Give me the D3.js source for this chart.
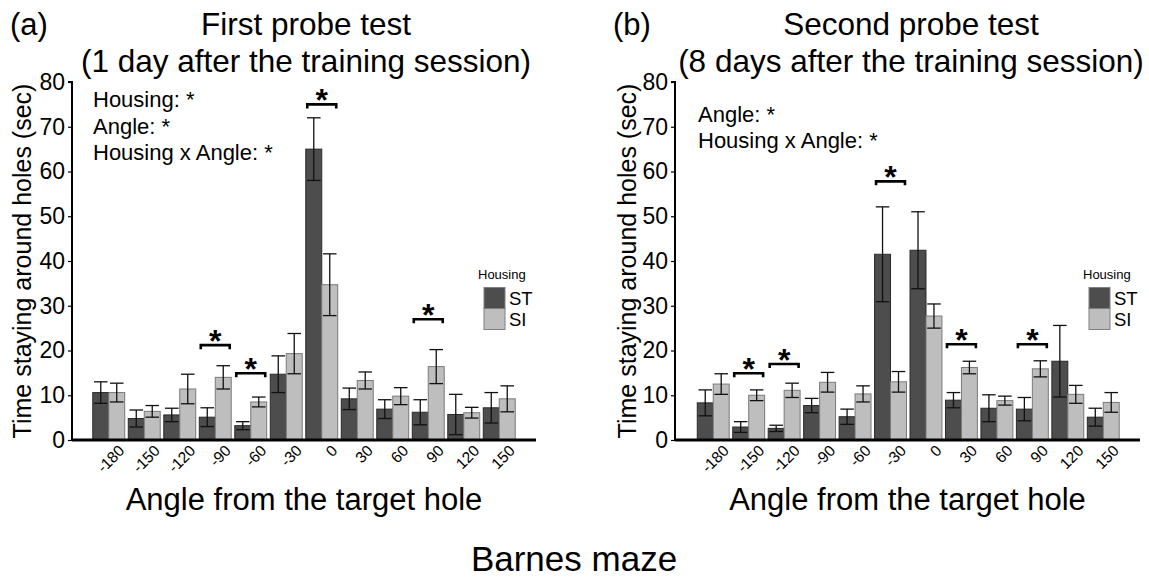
<!DOCTYPE html>
<html>
<head>
<meta charset="utf-8">
<script src="https://cdn.jsdelivr.net/npm/d3@7"></script>
<style>
  html, body { margin: 0; padding: 0; background: #fff; }
  svg { display: block; font-family: "Liberation Sans", Arial, sans-serif; }
</style>
</head>
<body>
<svg id="chart" width="1149" height="579"></svg>
<script>
// ---------------- data ----------------
const angles = [-180, -150, -120, -90, -60, -30, 0, 30, 60, 90, 120, 150];
const groups = ["ST", "SI"];
const yTicks = [0, 10, 20, 30, 40, 50, 60, 70, 80];

const firstST   = [10.6, 4.8, 5.6, 5.1, 3.2, 14.7, 65.0, 9.2, 6.9, 6.2, 5.7, 7.2];
const firstSTse = [2.4, 1.9, 1.5, 2.1, 0.9, 4.1, 7.0, 2.4, 2.1, 2.8, 4.5, 3.4];
const firstSI   = [10.6, 6.4, 11.4, 14.0, 8.5, 19.3, 34.7, 13.3, 9.8, 16.4, 6.1, 9.2];
const firstSIse = [2.1, 1.3, 3.3, 2.6, 1.1, 4.5, 6.9, 1.9, 1.9, 3.8, 1.2, 2.9];

const secondST   = [8.3, 2.9, 2.6, 7.7, 5.2, 41.5, 42.4, 8.9, 7.1, 6.9, 17.6, 5.1];
const secondSTse = [2.9, 1.2, 0.7, 1.6, 1.7, 10.6, 8.6, 1.7, 3.0, 2.6, 8.0, 2.0];
const secondSI   = [12.5, 10.0, 11.1, 12.9, 10.3, 13.0, 27.7, 16.2, 8.8, 15.9, 10.2, 8.4];
const secondSIse = [2.3, 1.2, 1.6, 2.2, 1.8, 2.3, 2.7, 1.4, 1.0, 1.8, 2.0, 2.2];

const firstSigAngles  = [-90, -60, 0, 90];
const firstSigY       = [21.2, 14.9, 75.0, 27.0];
const secondSigAngles = [-150, -120, -30, 30, 90];
const secondSigY      = [14.9, 17.0, 57.8, 21.4, 21.4];

const firstStats  = ["Housing: *", "Angle: *", "Housing x Angle: *"];
const secondStats = ["Angle: *", "Housing x Angle: *"];

// ---------------- style ----------------
const colors = { ST: "#4d4d4d", SI: "#bebebe" };
const strokes = { ST: "#2a2a2a", SI: "#7a7a7a" };

const svg = d3.select("#chart");

function drawPanel(opt) {
  const y = d3.scaleLinear().domain([0, 80]).range([440, 82]);
  const x = d3.scaleBand().domain(angles).range([opt.bandStart, opt.bandEnd])
              .paddingInner(0.1).paddingOuter(0.05);
  const xi = d3.scaleBand().domain(groups).range([0, x.bandwidth()]).padding(0);

  const g = svg.append("g");

  const rows = angles.map((a, i) => ({
    angle: a,
    vals: [
      { grp: "ST", v: opt.st[i], se: opt.stse[i] },
      { grp: "SI", v: opt.si[i], se: opt.sise[i] }
    ]
  }));

  // bars
  const grp = g.selectAll("g.grp").data(rows).join("g")
    .attr("transform", d => `translate(${x(d.angle)},0)`);
  grp.selectAll("rect").data(d => d.vals).join("rect")
    .attr("x", d => xi(d.grp))
    .attr("y", d => y(d.v))
    .attr("width", xi.bandwidth())
    .attr("height", d => y(0) - y(d.v))
    .attr("fill", d => colors[d.grp])
    .attr("stroke", d => strokes[d.grp])
    .attr("stroke-width", 1);

  // error bars
  const capW = xi.bandwidth() * 0.85;
  const eb = grp.selectAll("g.eb").data(d => d.vals).join("g")
    .attr("transform", d => `translate(${xi(d.grp) + xi.bandwidth() / 2},0)`);
  eb.append("line").attr("x1", 0).attr("x2", 0)
    .attr("y1", d => y(d.v - d.se)).attr("y2", d => y(d.v + d.se))
    .attr("stroke", "#111").attr("stroke-width", 1.3);
  eb.append("line").attr("x1", -capW / 2).attr("x2", capW / 2)
    .attr("y1", d => y(d.v + d.se)).attr("y2", d => y(d.v + d.se))
    .attr("stroke", "#111").attr("stroke-width", 1.3);
  eb.append("line").attr("x1", -capW / 2).attr("x2", capW / 2)
    .attr("y1", d => y(d.v - d.se)).attr("y2", d => y(d.v - d.se))
    .attr("stroke", "#111").attr("stroke-width", 1.3);

  // significance brackets
  const sig = opt.sigAngles.map((a, i) => ({ angle: a, yv: opt.sigY[i] }));
  const sg = g.selectAll("g.sig").data(sig).join("g");
  sg.append("path")
    .attr("d", d => {
      const x0 = x(d.angle) + 1.5, x1 = x(d.angle) + x.bandwidth() - 1.5, yy = y(d.yv);
      return `M${x0},${yy + 4}V${yy}H${x1}V${yy + 4}`;
    })
    .attr("fill", "none").attr("stroke", "#000").attr("stroke-width", 2.6);
  sg.append("text")
    .attr("x", d => x(d.angle) + x.bandwidth() / 2)
    .attr("y", d => y(d.yv) + 7)
    .attr("text-anchor", "middle")
    .attr("font-size", 32).attr("font-weight", "bold")
    .text("*");

  // y axis
  const yAxis = d3.axisLeft(y).tickValues(yTicks).tickSize(4).tickPadding(3);
  const ya = g.append("g").attr("transform", `translate(${opt.axisX},0)`).call(yAxis);
  ya.select(".domain").attr("d", `M-4,${y(80)}H0V${y(0)}`).attr("stroke-width", 2);
  ya.selectAll(".tick line").attr("stroke-width", 1.2);
  ya.selectAll(".tick text").attr("font-size", 23).attr("fill", "#000")
    .attr("font-family", "'Liberation Sans', Arial, sans-serif");

  // x axis
  const xAxis = d3.axisBottom(x).tickSize(0).tickPadding(0);
  const xa = g.append("g").attr("transform", `translate(0,${y(0)})`).call(xAxis);
  xa.select(".domain").attr("d", `M${opt.axisX},0H${opt.axisEnd}`).attr("stroke-width", 3);
  xa.selectAll(".tick text")
    .attr("font-size", 15.5).attr("fill", "#000")
    .attr("font-family", "'Liberation Sans', Arial, sans-serif")
    .attr("text-anchor", "end")
    .attr("transform", "translate(9,4) rotate(-45)")
    .attr("dy", "0.7em").attr("y", 0).attr("x", 0);

  // axis titles
  g.append("text")
    .attr("transform", `translate(${opt.yTitleX},261) rotate(-90)`)
    .attr("text-anchor", "middle").attr("font-size", 25)
    .text("Time staying around holes (sec)");
  g.append("text")
    .attr("x", (opt.axisX + opt.axisEnd) / 2).attr("y", 510)
    .attr("text-anchor", "middle").attr("font-size", 31)
    .text("Angle from the target hole");

  // titles
  g.append("text").attr("x", opt.labelX).attr("y", 35).attr("font-size", 31).text(opt.label);
  g.append("text").attr("x", opt.titleCX).attr("y", 35).attr("text-anchor", "middle")
    .attr("font-size", 31.5).text(opt.title1);
  g.append("text").attr("x", opt.titleCX).attr("y", 72).attr("text-anchor", "middle")
    .attr("font-size", 31.5).text(opt.title2);

  // stats annotation
  g.selectAll("text.stat").data(opt.stats).join("text")
    .attr("class", "stat")
    .attr("x", opt.statX)
    .attr("y", (d, i) => opt.statY + i * 26.7)
    .attr("font-size", 22)
    .text(d => d);

  // legend
  const lg = g.append("g").attr("transform", `translate(${opt.legendX},0)`);
  lg.append("text").attr("x", -6).attr("y", 279).attr("font-size", 13).text("Housing");
  lg.selectAll("rect").data(groups).join("rect")
    .attr("x", 0).attr("y", (d, i) => 287.5 + i * 21)
    .attr("width", 21).attr("height", 21)
    .attr("fill", d => colors[d]).attr("stroke", "#808080").attr("stroke-width", 1);
  lg.selectAll("text.lt").data(groups).join("text")
    .attr("class", "lt")
    .attr("x", 25).attr("y", (d, i) => 298 + i * 21)
    .attr("dy", "0.36em").attr("font-size", 18.5)
    .text(d => d);
}

drawPanel({
  st: firstST, stse: firstSTse, si: firstSI, sise: firstSIse,
  sigAngles: firstSigAngles, sigY: firstSigY,
  bandStart: 91, bandEnd: 517, axisX: 72, axisEnd: 536,
  yTitleX: 31, label: "(a)", labelX: 10, titleCX: 306,
  title1: "First probe test", title2: "(1 day after the training session)",
  stats: firstStats, statX: 93, statY: 107,
  legendX: 484
});

drawPanel({
  st: secondST, stse: secondSTse, si: secondSI, sise: secondSIse,
  sigAngles: secondSigAngles, sigY: secondSigY,
  bandStart: 695.5, bandEnd: 1121, axisX: 675, axisEnd: 1140,
  yTitleX: 636, label: "(b)", labelX: 613, titleCX: 911,
  title1: "Second probe test", title2: "(8 days after the training session)",
  stats: secondStats, statX: 698, statY: 121.7,
  legendX: 1089
});

svg.append("text").attr("x", 574).attr("y", 571).attr("text-anchor", "middle")
  .attr("font-size", 35).text("Barnes maze");
</script>
</body>
</html>
